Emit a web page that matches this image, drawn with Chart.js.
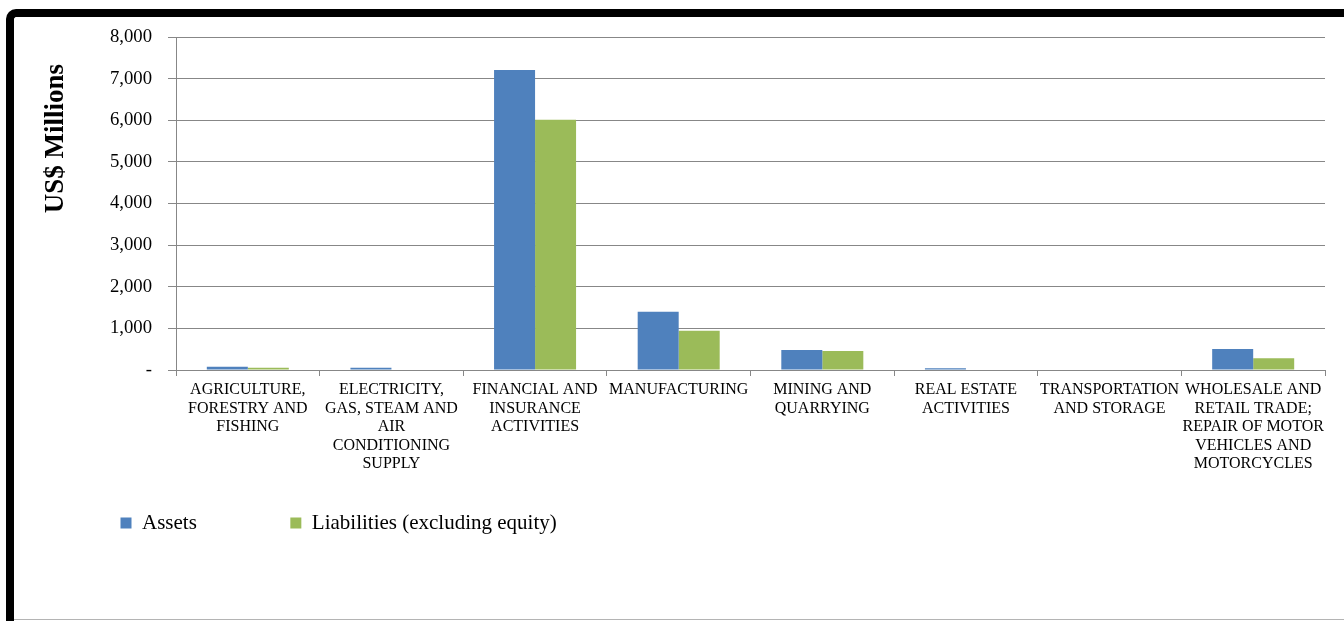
<!DOCTYPE html>
<html>
<head>
<meta charset="utf-8">
<script src="https://cdn.jsdelivr.net/npm/chart.js@4/dist/chart.umd.min.js"></script>
<style>
  html, body { margin: 0; padding: 0; background: #fff; overflow: hidden; }
  body { width: 1344px; height: 621px; position: relative; }
  /* marco negro del gráfico */
  .marco {
    position: absolute; left: 6px; top: 9px; width: 1400px; height: 700px;
    border-left: 8px solid #000; border-top: 8px solid #000;
    border-top-left-radius: 10px;
  }
  .linea-inferior {
    position: absolute; left: 14px; right: 0; top: 619px; height: 1px; background: #b4b4b4;
  }
  .contenedor { position: absolute; left: 20px; top: 0; width: 1324px; height: 621px; }
</style>
</head>
<body>
<div class="marco"></div>
<div class="linea-inferior"></div>
<div class="contenedor"><canvas id="chartSectores"></canvas></div>

<script>
// Sectores (etiquetas ya partidas en líneas)
const sectores = [
  ["AGRICULTURE,", "FORESTRY AND", "FISHING"],
  ["ELECTRICITY,", "GAS, STEAM AND", "AIR", "CONDITIONING", "SUPPLY"],
  ["FINANCIAL AND", "INSURANCE", "ACTIVITIES"],
  ["MANUFACTURING"],
  ["MINING AND", "QUARRYING"],
  ["REAL ESTATE", "ACTIVITIES"],
  ["TRANSPORTATION", "AND STORAGE"],
  ["WHOLESALE AND", "RETAIL TRADE;", "REPAIR OF MOTOR", "VEHICLES AND", "MOTORCYCLES"],
];

// Valores en millones de US$
const activos = [80, 55, 7210, 1400, 480, 45, 0, 505];
const pasivos = [55, 0, 6010, 940, 456, 0, 0, 280];

const nombreActivos = "Assets";
const nombrePasivos = "Liabilities (excluding equity)";

// Marcas del eje Y
const ejeYMax = 8000;
const ejeYPaso = 1000;

const FUENTE = "'Liberation Serif', 'Times New Roman', serif";
const GRIS = "#878787";

// El padding grande de la leyenda separa los elementos en horizontal,
// pero también la baja; aquí se sube lo que sobra.
const subidaLeyenda = 59;
const subirLeyenda = {
  id: "subirLeyenda",
  afterUpdate(chart) {
    const lg = chart.legend;
    if (!lg) return;
    lg.top -= subidaLeyenda;
    lg.bottom -= subidaLeyenda;
  },
};

const canvas = document.getElementById("chartSectores");

new Chart(canvas.getContext("2d"), {
  type: "bar",
  data: {
    labels: sectores,
    datasets: [
      {
        label: nombreActivos,
        data: activos,
        backgroundColor: "#4F81BD",
        categoryPercentage: 0.571,
        barPercentage: 1,
      },
      {
        label: nombrePasivos,
        data: pasivos,
        backgroundColor: "#9BBB59",
        categoryPercentage: 0.571,
        barPercentage: 1,
      },
    ],
  },
  plugins: [subirLeyenda],
  options: {
    responsive: true,
    maintainAspectRatio: false,
    animation: false,
    layout: {
      padding: { left: 7, top: 37, right: 19, bottom: 18.5 },
    },
    plugins: {
      tooltip: { enabled: false },
      legend: {
        position: "bottom",
        align: "start",
        labels: {
          color: "#000",
          font: { family: FUENTE, size: 21 },
          boxWidth: 11,
          boxHeight: 11,
          padding: 93.5,
        },
      },
    },
    scales: {
      x: {
        grid: {
          display: true,
          drawOnChartArea: false,
          drawTicks: true,
          tickLength: 6,
          color: GRIS,
          offset: true,
        },
        border: { color: GRIS, width: 1 },
        ticks: {
          color: "#000",
          font: { family: FUENTE, size: 16, lineHeight: 1.15 },
          autoSkip: false,
          maxRotation: 0,
          minRotation: 0,
          padding: 5,
        },
      },
      y: {
        min: 0,
        max: ejeYMax,
        grid: {
          color: GRIS,
          tickLength: 8,
        },
        border: { color: GRIS, width: 1 },
        ticks: {
          stepSize: ejeYPaso,
          color: "#000",
          font: { family: FUENTE, size: 18.7 },
          padding: 16,
          callback: (v) => (v === 0 ? "-" : v.toLocaleString("en-US")),
        },
        title: {
          display: true,
          text: "US$ Millions    ",
          align: "end",
          color: "#000",
          font: { family: FUENTE, size: 27, weight: "bold", lineHeight: 1.2 },
          padding: { top: 12.8, bottom: 4 },
        },
        afterFit: (scale) => {
          scale.width = 149;
        },
      },
    },
  },
});
</script>
</body>
</html>
